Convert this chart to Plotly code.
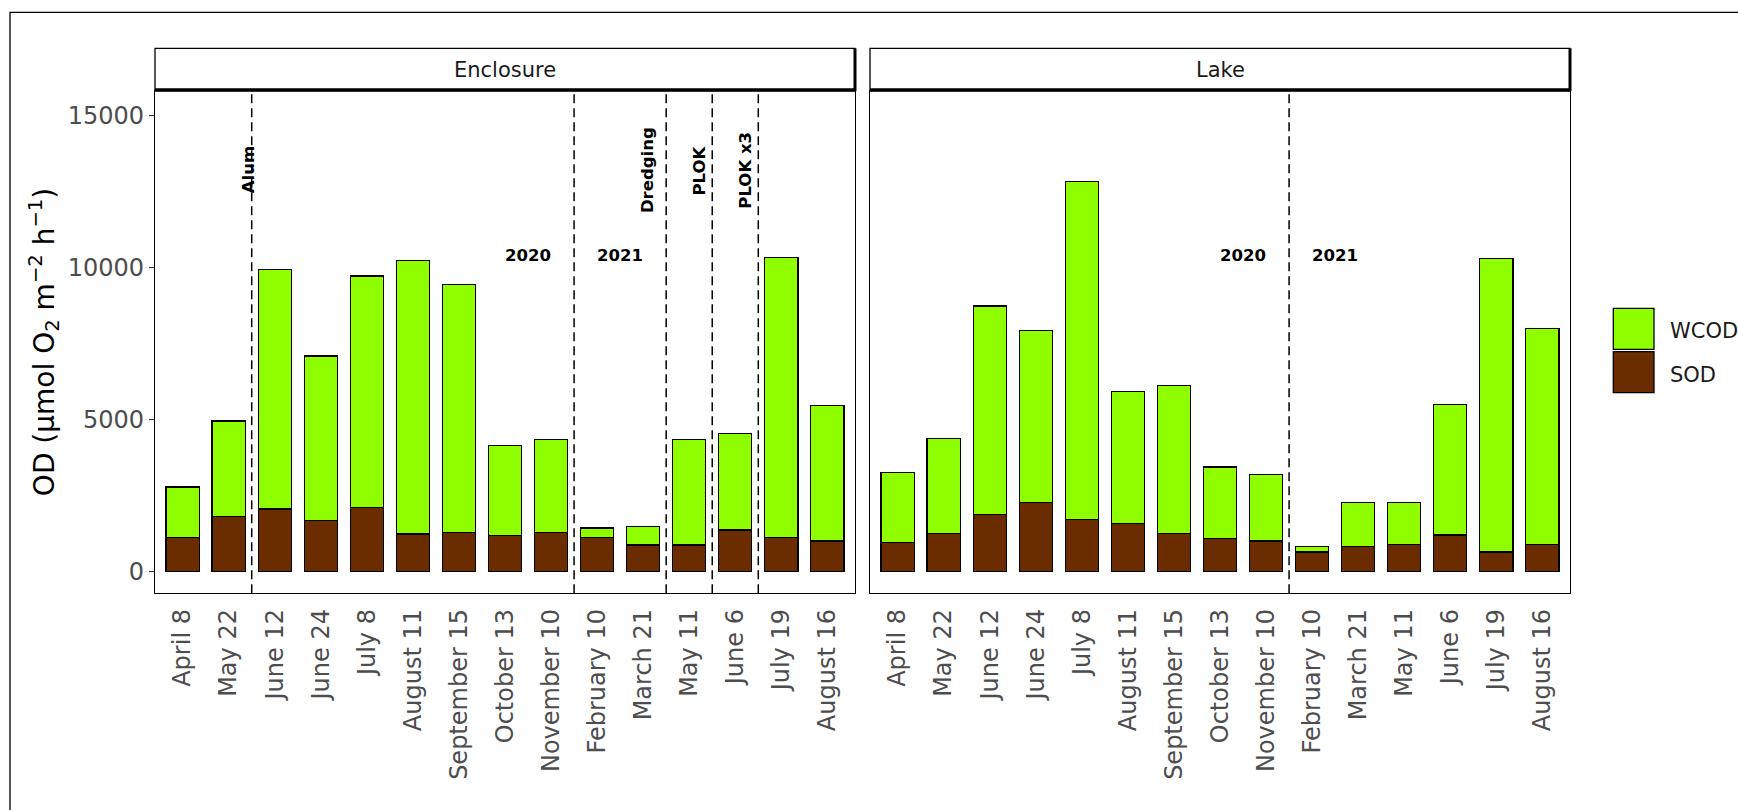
import plotly.graph_objects as go

# Canvas size in pixels
W, H = 1738, 810

# Sampling dates (same for both sites)
dates = ["April 8", "May 22", "June 12", "June 24", "July 8", "August 11",
         "September 15", "October 13", "November 10", "February 10",
         "March 21", "May 11", "June 6", "July 19", "August 16"]

# Oxygen demand, µmol O2 m-2 h-1
enclosure_sod = [1130, 1810, 2060, 1680, 2110, 1240, 1300, 1190, 1300,
                 1130, 880, 880, 1370, 1130, 1010]
enclosure_wcod = [1660, 3150, 7870, 5410, 7610, 9000, 8150, 2970, 3050,
                  310, 610, 3470, 3170, 9200, 4460]
lake_sod = [950, 1260, 1890, 2270, 1720, 1590, 1260, 1100, 1010,
            650, 820, 890, 1210, 650, 890]
lake_wcod = [2310, 3120, 6850, 5650, 11110, 4330, 4860, 2340, 2190,
             170, 1450, 1380, 4280, 9650, 7100]

panel_names = ["Enclosure", "Lake"]
series_names = ["WCOD", "SOD"]
year_names = ["2020", "2021"]

# Treatments: (label, first date after the treatment)
enclosure_events = [("Alum", "June 12"), ("", "February 10"),
                    ("Dredging", "May 11"), ("PLOK", "June 6"),
                    ("PLOK x3", "July 19")]
lake_events = [("", "February 10")]
year_break = "February 10"

y_ticks = [0, 5000, 10000, 15000]
y_tick_labels = ["0", "5000", "10000", "15000"]

WCOD_COLOR = "#8FFF00"
SOD_COLOR = "#6B2C00"
FONT = "DejaVu Sans"
TICK_GRAY = "#4D4D4D"


def px(x):
    return x / W


def py(y):
    return 1 - y / H


# panel geometry (pixels)
panel_x = [(155, 855), (870, 1570)]
panel_top, panel_bottom = 91, 593.3
strip_top = 48.3

fig = go.Figure()

site_data = [(enclosure_sod, enclosure_wcod), (lake_sod, lake_wcod)]
for i, (sod, wcod) in enumerate(site_data):
    xa = "x" if i == 0 else "x2"
    ya = "y" if i == 0 else "y2"
    fig.add_trace(go.Bar(
        x=dates, y=sod, name=series_names[1], xaxis=xa, yaxis=ya,
        width=0.72, showlegend=False,
        marker=dict(color=SOD_COLOR, line=dict(color="black", width=1.3))))
    fig.add_trace(go.Bar(
        x=dates, y=wcod, name=series_names[0], xaxis=xa, yaxis=ya,
        width=0.72, showlegend=False,
        marker=dict(color=WCOD_COLOR, line=dict(color="black", width=1.3))))

y_range = [-710, 15806]
x_common = dict(type="category", categoryorder="array", categoryarray=dates,
                range=[-0.6, 14.6], tickangle=-90, ticks="",
                tickfont=dict(family=FONT, size=24, color=TICK_GRAY),
                showline=True, mirror=True, linecolor="black", linewidth=1.3,
                showgrid=False, zeroline=False, ticklabelstandoff=5)
y_common = dict(range=y_range, tickmode="array", tickvals=y_ticks,
                ticktext=y_tick_labels, ticks="outside", ticklen=5,
                tickwidth=1.3, tickcolor="#333333",
                tickfont=dict(family=FONT, size=24, color=TICK_GRAY),
                showline=True, mirror=True, linecolor="black", linewidth=1.3,
                showgrid=False, zeroline=False,
                domain=[py(panel_bottom), py(panel_top)])

fig.update_layout(
    width=W, height=H, margin=dict(l=0, r=0, t=0, b=0),
    paper_bgcolor="white", plot_bgcolor="white", barmode="stack",
    xaxis=dict(x_common, domain=[px(panel_x[0][0]), px(panel_x[0][1])], anchor="y"),
    xaxis2=dict(x_common, domain=[px(panel_x[1][0]), px(panel_x[1][1])], anchor="y2"),
    yaxis=dict(y_common, anchor="x"),
    yaxis2=dict(y_common, anchor="x2", matches="y", showticklabels=False, ticks=""),
)

shapes = []
annotations = []

# outer frame
shapes.append(dict(type="rect", xref="paper", yref="paper",
                   x0=px(10), x1=px(W + 20), y0=py(H + 20), y1=py(12.3),
                   line=dict(color="black", width=1.3), fillcolor="rgba(0,0,0,0)"))

# facet strips
for (x0, x1), name in zip(panel_x, panel_names):
    shapes.append(dict(type="rect", xref="paper", yref="paper",
                       x0=px(x0), x1=px(x1), y0=py(panel_top), y1=py(strip_top),
                       line=dict(color="black", width=1.3), fillcolor="white"))
    shapes.append(dict(type="line", xref="paper", yref="paper",
                       x0=px(x0), x1=px(x1 + 1), y0=py(panel_top - 1.2), y1=py(panel_top - 1.2),
                       line=dict(color="black", width=3)))
    shapes.append(dict(type="line", xref="paper", yref="paper",
                       x0=px(x1), x1=px(x1), y0=py(panel_top), y1=py(strip_top),
                       line=dict(color="black", width=3)))
    annotations.append(dict(text=name, xref="paper", yref="paper",
                            x=px((x0 + x1) / 2), y=py((strip_top + panel_top) / 2),
                            showarrow=False, xanchor="center", yanchor="middle",
                            font=dict(family=FONT, size=21, color="#1A1A1A")))

# horizontal shift of each treatment label, in category units
label_shift = {"Alum": 0.08, "Dredging": 0.42, "PLOK": 0.28, "PLOK x3": 0.28}
label_font = dict(family=FONT, size=16.5, color="black", weight="bold")

for i, events in enumerate([enclosure_events, lake_events]):
    xa = "x" if i == 0 else "x2"
    ya = "y" if i == 0 else "y2"
    for label, after in events:
        xpos = dates.index(after) - 0.5
        shapes.append(dict(type="line", xref=xa, yref=ya + " domain",
                           x0=xpos, x1=xpos, y0=0, y1=1,
                           line=dict(color="black", width=1.5, dash="9px,5px")))
        if label:
            annotations.append(dict(text=label, xref=xa, yref=ya,
                                    x=xpos - label_shift[label], y=13200,
                                    textangle=-90, showarrow=False,
                                    xanchor="center", yanchor="middle",
                                    font=label_font))
    brk = dates.index(year_break) - 0.5
    for yr, off in zip(year_names, (-1, 1)):
        annotations.append(dict(text=yr, xref=xa, yref=ya, x=brk + off, y=10400,
                                showarrow=False, xanchor="center", yanchor="middle",
                                font=label_font))

# y-axis title
annotations.append(dict(
    text="OD (µmol O<sub>2</sub> m<sup>−2</sup> h<sup>−1</sup>)",
    xref="paper", yref="paper", x=px(44), y=py((panel_top + panel_bottom) / 2),
    textangle=-90, showarrow=False, xanchor="center", yanchor="middle",
    font=dict(family=FONT, size=28, color="black")))

# legend keys
legend_items = [(series_names[0], WCOD_COLOR, 308.3), (series_names[1], SOD_COLOR, 351.7)]
for name, color, top in legend_items:
    shapes.append(dict(type="rect", xref="paper", yref="paper",
                       x0=px(1613.3), x1=px(1654), y0=py(top + 41), y1=py(top),
                       line=dict(color="black", width=1.3), fillcolor=color))
    annotations.append(dict(text=name, xref="paper", yref="paper",
                            x=px(1668), y=py(top + 23), showarrow=False,
                            xanchor="left", yanchor="middle",
                            font=dict(family=FONT, size=21, color="#1A1A1A")))

fig.update_layout(shapes=shapes, annotations=annotations)

fig.write_html("out.html")
